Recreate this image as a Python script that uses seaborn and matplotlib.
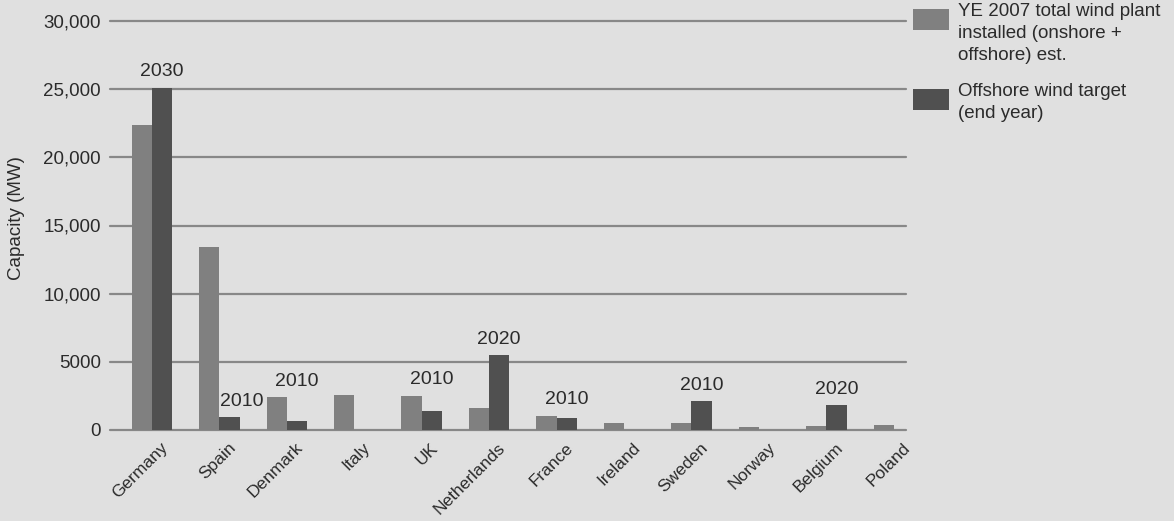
import numpy as np
import pandas as pd
import matplotlib
matplotlib.use("Agg")
import matplotlib.pyplot as plt
import matplotlib.transforms as mtransforms
from matplotlib.patches import Rectangle
from matplotlib.ticker import FuncFormatter
import seaborn as sns

# ======================================
# DATA
# ======================================

countries = ["Germany", "Spain", "Denmark", "Italy", "UK", "Netherlands",
             "France", "Ireland", "Sweden", "Norway", "Belgium", "Poland"]
installed_2007 = [22400, 13400, 2400, 2600, 2500, 1600,
                  1050, 500, 500, 220, 300, 370]
offshore_target = [25100, 950, 660, np.nan, 1400, 5500,
                   900, np.nan, 2100, np.nan, 1800, np.nan]
target_year = ["2030", "2010", "2010", None, "2010", "2020",
               "2010", None, "2010", None, "2020", None]

series_names = ["YE 2007 total wind plant\ninstalled (onshore +\noffshore) est.",
                "Offshore wind target\n(end year)"]
bar_colors = ["#808080", "#505050"]

df = pd.DataFrame({
    "Country": countries * 2,
    "Capacity": installed_2007 + offshore_target,
    "Series": [series_names[0]] * len(countries) + [series_names[1]] * len(countries),
})

# ======================================
# STYLE
# ======================================

bg = "#e0e0e0"
text_color = "#2b2b2b"
sns.set_style("white")
plt.rcParams["font.family"] = ["Liberation Sans", "DejaVu Sans"]

fig = plt.figure(figsize=(11.74, 5.21), dpi=100, facecolor=bg)
ax = fig.add_axes([110 / 1174, 1 - 430 / 521, 796 / 1174, 409 / 521])
ax.set_facecolor(bg)

sns.barplot(data=df, x="Country", y="Capacity", hue="Series",
            palette=bar_colors, width=0.6, linewidth=0, saturation=1,
            errorbar=None, legend=False, ax=ax, zorder=3)

ax.set_ylim(0, 30000)
ax.set_xlim(-0.62, 11.18)
ax.set_yticks(np.arange(0, 30001, 5000))
ax.yaxis.set_major_formatter(FuncFormatter(
    lambda v, p: f"{int(v):,}" if v >= 10000 else f"{int(v)}"))
ax.grid(axis="y", color="#888888", linewidth=1.6, zorder=0)
ax.grid(axis="x", visible=False)
for gl in ax.get_ygridlines():
    gl.set_clip_on(False)
for s in ax.spines.values():
    s.set_visible(False)
ax.tick_params(axis="y", length=0, pad=6.5, labelsize=13.5, labelcolor=text_color)
ax.tick_params(axis="x", length=0, pad=11, labelsize=12.5, labelcolor=text_color)
ax.set_xlabel("")
ax.set_ylabel("Capacity (MW)", fontsize=13.5, color=text_color)
ax.yaxis.set_label_coords(-(110 - 25) / 796, (430 - 218) / 409)

shift = mtransforms.ScaledTranslation(14 / 100, 0, fig.dpi_scale_trans)
for lab in ax.get_xticklabels():
    lab.set_rotation(45)
    lab.set_ha("right")
    lab.set_va("center")
    lab.set_rotation_mode("anchor")
    lab.set_transform(lab.get_transform() + shift)

# year labels above the target bars
for i, yr in enumerate(target_year):
    if yr is None:
        continue
    light, dark = installed_2007[i], offshore_target[i]
    x = i + 0.15
    dx = 0
    if light > dark + 5000:
        base = dark
        dx = 9
    else:
        base = max(light, dark)
    ax.annotate(yr, (x, base), xytext=(dx, 11.5), textcoords="offset points",
                ha="center", va="center", fontsize=14, color=text_color)

# legend drawn by hand so the swatch sits next to the first line
W, H = 1174, 521
leg_top = [8, 88]
for k, name in enumerate(series_names):
    y0 = leg_top[k]
    fig.patches.append(Rectangle((913 / W, 1 - (y0 + 22) / H), 36 / W, 21 / H,
                                 transform=fig.transFigure, facecolor=bar_colors[k],
                                 edgecolor="none"))
    fig.text(958 / W, 1 - (y0 - 5) / H, name, ha="left", va="top",
             fontsize=13.5, color=text_color, linespacing=1.4)

fig.savefig("out.png", dpi=100, facecolor=bg)
